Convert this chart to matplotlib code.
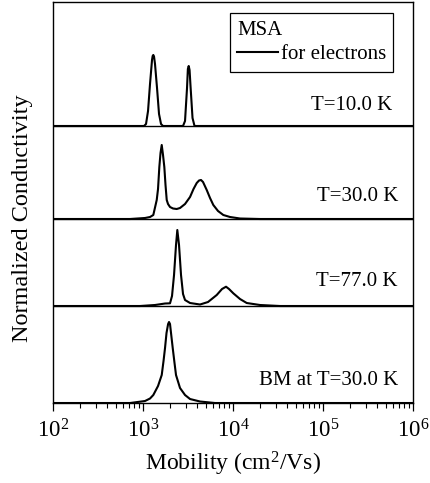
import matplotlib.pyplot as plt
from matplotlib.ticker import LogLocator, NullFormatter, LogFormatterSciNotation

plt.rcParams['font.family'] = ['Liberation Serif', 'DejaVu Serif']
plt.rcParams['mathtext.fontset'] = 'custom'
plt.rcParams['mathtext.rm'] = 'Liberation Serif'
plt.rcParams['mathtext.it'] = 'Liberation Serif:italic'

# mobility spectra (cm^2/Vs) and normalized conductivity above each baseline
mu_10k = [100, 1026, 1080, 1137, 1196, 1259, 1280, 1301, 1325, 1359, 1431, 1506,
          1585, 1668, 2783, 2929, 3083, 3150, 3219, 3290, 3371, 3548, 3735, 1e6]
sig_10k = [0, 0, 0.02, 0.15, 0.42, 0.66, 0.70, 0.71, 0.695, 0.62, 0.38, 0.12,
           0.02, 0, 0, 0.05, 0.38, 0.57, 0.60, 0.56, 0.40, 0.08, 0, 0]

mu_30k = [100, 717, 1052, 1196, 1301, 1420, 1468, 1518, 1565, 1614, 1668, 1725,
          1778, 1834, 1896, 1995, 2154, 2368, 2577, 2929, 3330, 3640, 3952, 4192,
          4410, 4642, 5104, 5553, 6041, 6813, 7803, 9261, 11962, 19953, 1e6]
sig_30k = [0, 0, 0.01, 0.02, 0.04, 0.19, 0.30, 0.52, 0.66, 0.74, 0.64, 0.52,
           0.34, 0.19, 0.15, 0.12, 0.105, 0.10, 0.11, 0.15, 0.22, 0.30, 0.36, 0.385,
           0.39, 0.37, 0.29, 0.21, 0.14, 0.08, 0.04, 0.02, 0.005, 0, 0]

mu_77k = [100, 926, 1359, 1756, 1995, 2100, 2211, 2326, 2405, 2512, 2644, 2783,
          2929, 3330, 4300, 5275, 6590, 7547, 8363, 9029, 10077, 11962, 14200,
          19953, 33291, 1e6]
sig_77k = [0, 0, 0.01, 0.025, 0.027, 0.10, 0.31, 0.61, 0.76, 0.61, 0.31, 0.12,
           0.06, 0.03, 0.015, 0.04, 0.11, 0.17, 0.193, 0.17, 0.127, 0.07, 0.03,
           0.01, 0, 0]

mu_bm = [100, 717, 1052, 1196, 1301, 1468, 1614, 1690, 1756, 1824, 1900, 1945,
         1995, 2047, 2138, 2239, 2326, 2577, 2929, 3330, 4300, 6310, 1e6]
sig_bm = [0, 0, 0.02, 0.045, 0.08, 0.17, 0.28, 0.42, 0.55, 0.70, 0.79, 0.81,
          0.79, 0.70, 0.55, 0.40, 0.28, 0.15, 0.08, 0.04, 0.015, 0, 0]

curves = [(mu_10k, sig_10k), (mu_30k, sig_30k), (mu_77k, sig_77k), (mu_bm, sig_bm)]
offsets = [2.77, 1.84, 0.97, 0.0]
labels = ["T=10.0 K", "T=30.0 K", "T=77.0 K", "BM at T=30.0 K"]
label_pos = [(0.942, 0.741), (0.958, 0.514), (0.958, 0.302), (0.958, 0.055)]

fig = plt.figure(figsize=(4.30, 4.83), dpi=100)
ax = fig.add_axes([0.1233, 0.1656, 0.8372, 0.8303])

for i, (mu, sig) in enumerate(curves):
    y = [offsets[i] + s for s in sig]
    ax.plot(mu, y, color='black', lw=1.5, solid_joinstyle='round',
            label='for electrons' if i == 0 else None)
    ax.text(label_pos[i][0], label_pos[i][1], labels[i], transform=ax.transAxes,
            ha='right', va='center', fontsize=15)

for off in offsets[:3]:
    ax.axhline(off, color='black', lw=1.0, zorder=0)

ax.set_xscale('log')
ax.set_xlim(1e2, 1e6)
ax.set_ylim(0, 4.01)
ax.set_yticks([])
ax.xaxis.set_major_locator(LogLocator(base=10, numticks=10))
ax.xaxis.set_major_formatter(LogFormatterSciNotation())
ax.xaxis.set_minor_locator(LogLocator(base=10, subs=range(2, 10), numticks=20))
ax.xaxis.set_minor_formatter(NullFormatter())
ax.tick_params(axis='x', which='major', direction='out', length=6, width=0.9,
               labelsize=16.5, pad=6)
ax.tick_params(axis='x', which='minor', direction='out', length=3.3, width=0.8)
for sp in ax.spines.values():
    sp.set_linewidth(1.0)

ax.set_xlabel('Mobility (cm$^2$/Vs)', fontsize=17, labelpad=5)
fig.text(23 / 430, 1 - 218 / 483, 'Normalized Conductivity', fontsize=17.5,
         rotation=90, ha='center', va='center')

leg = ax.legend(loc='upper right', bbox_to_anchor=(0.945, 0.972), borderaxespad=0,
                title='MSA', title_fontsize=15, fontsize=15, alignment='left',
                frameon=True, fancybox=False, edgecolor='black', framealpha=1,
                handlelength=1.95, handletextpad=0.15, borderpad=0.35,
                labelspacing=0.25)
leg.get_frame().set_linewidth(0.9)

fig.savefig('out.png', dpi=100)
